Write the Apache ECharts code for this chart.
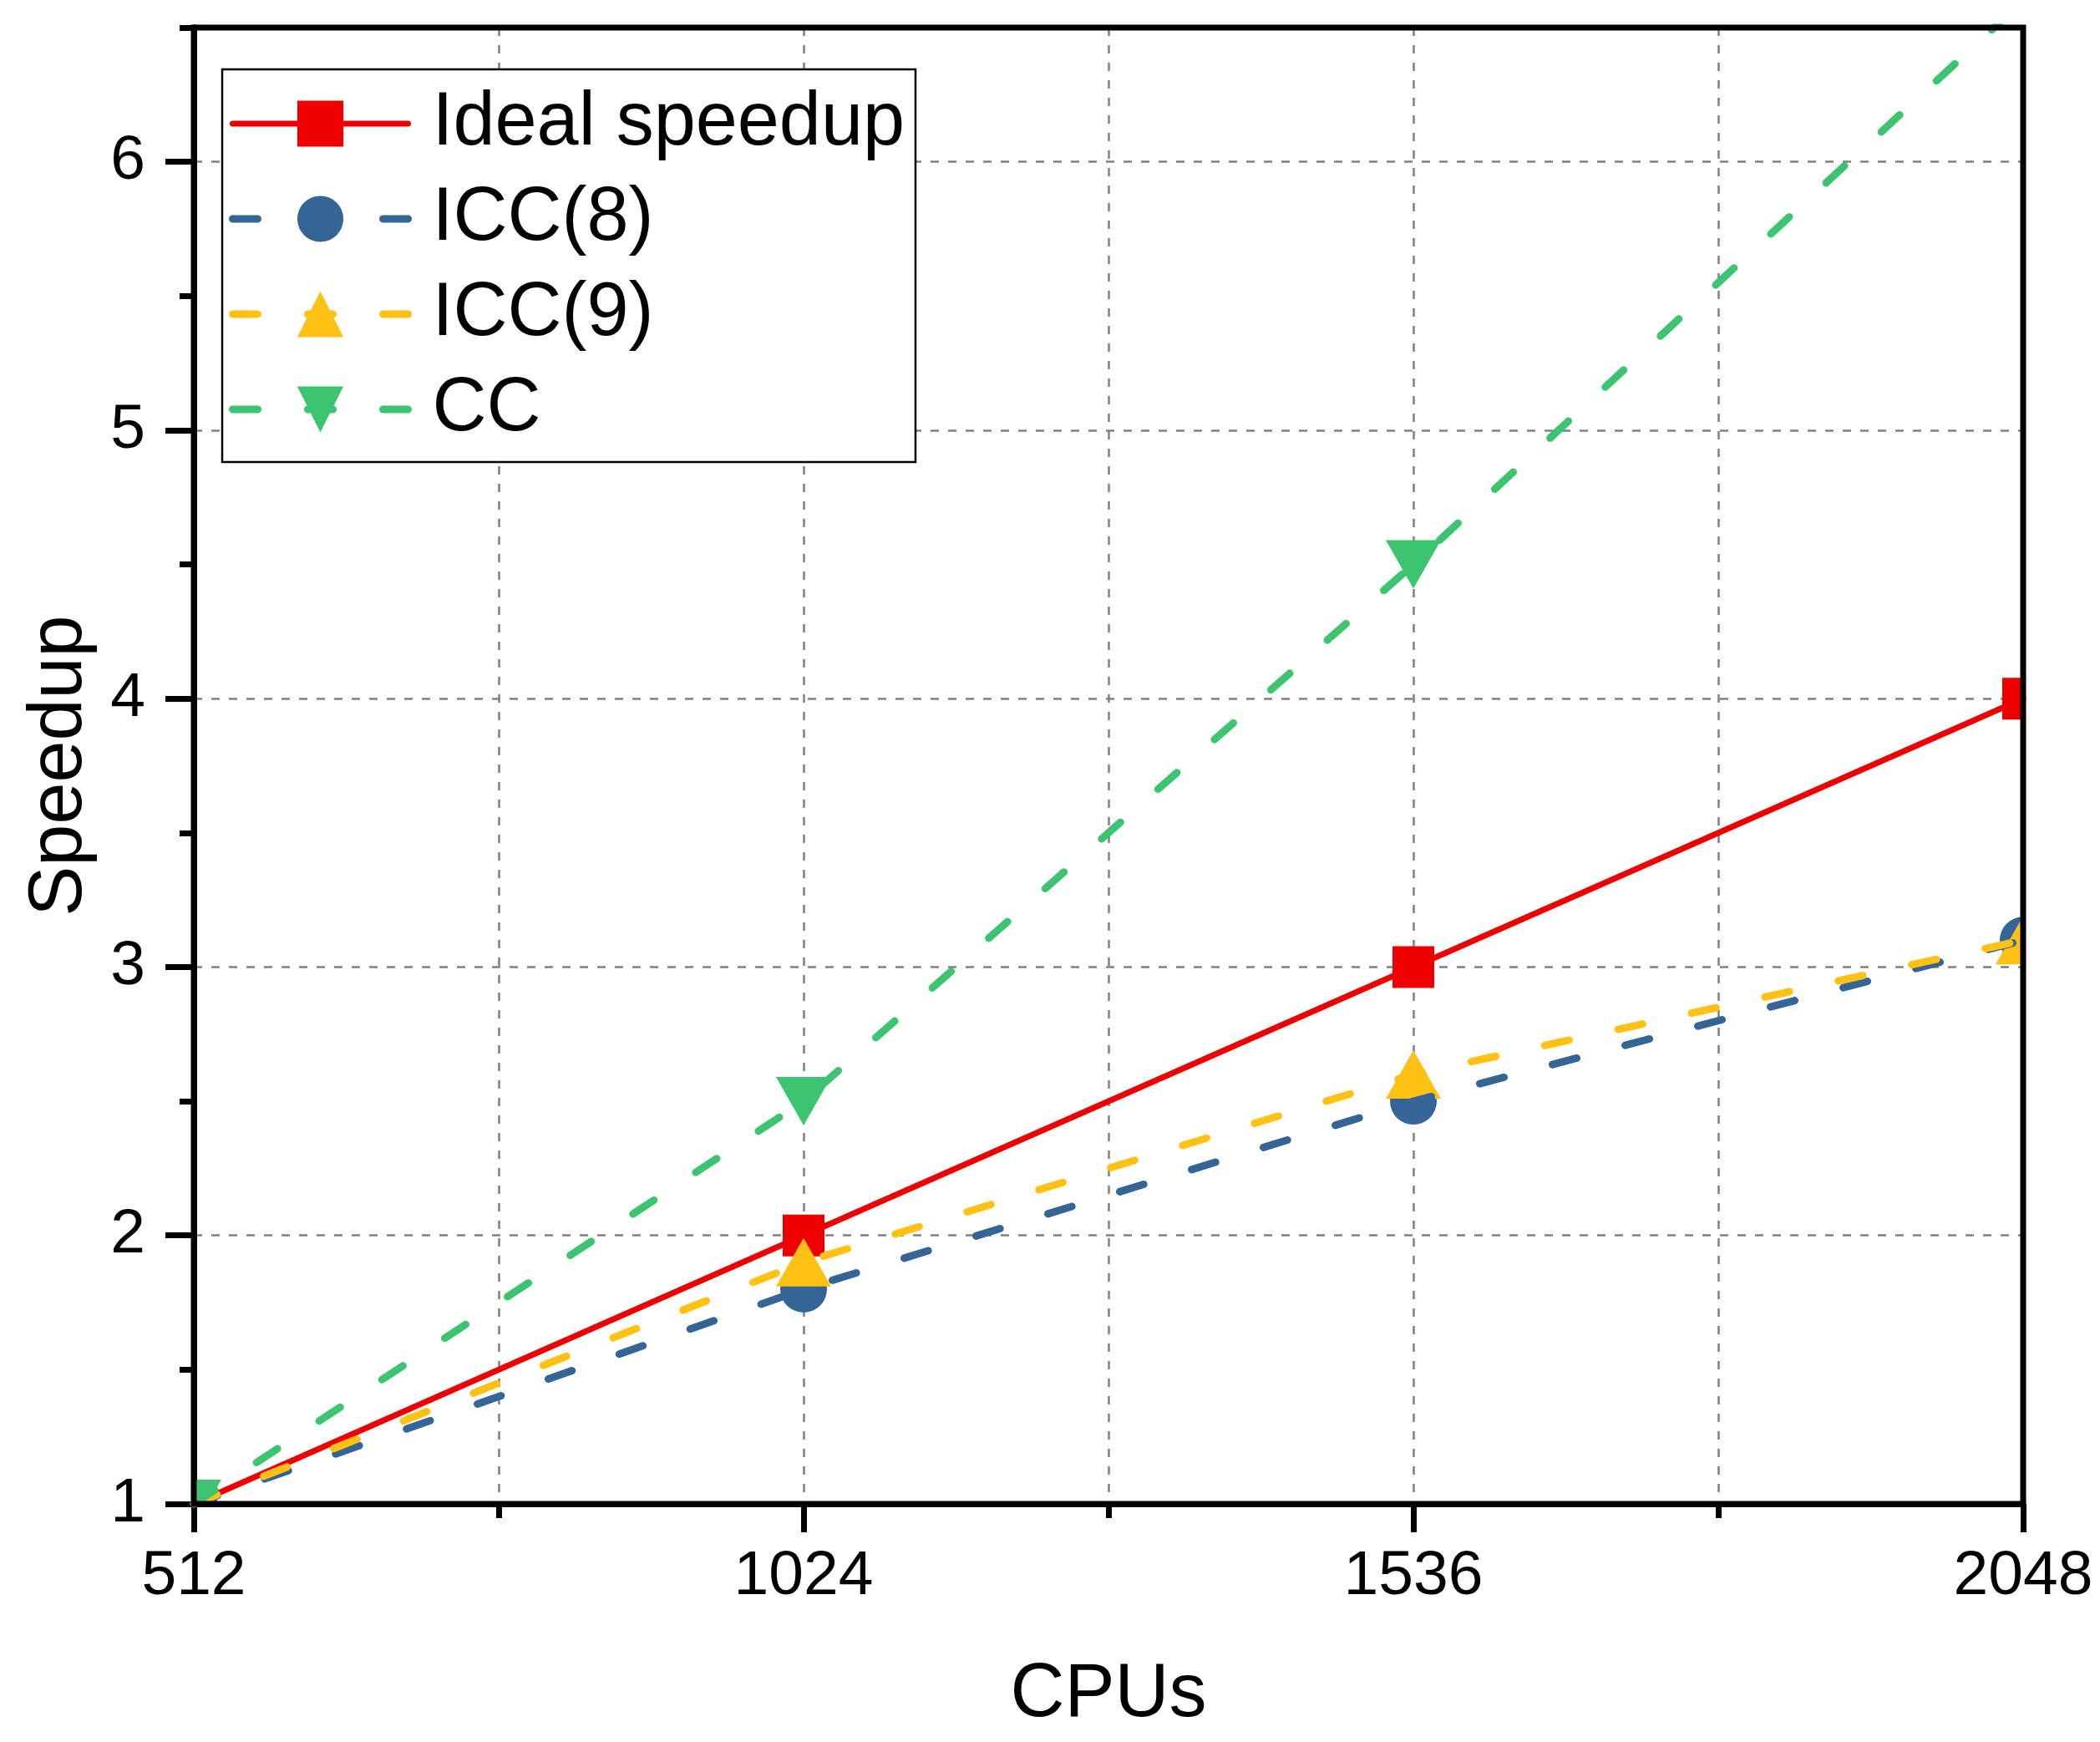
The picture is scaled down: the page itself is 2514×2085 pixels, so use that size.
<!DOCTYPE html>
<html>
<head>
<meta charset="utf-8">
<script src="https://cdn.jsdelivr.net/npm/echarts@6/dist/echarts.min.js"></script>
<style>
  html, body { margin: 0; padding: 0; background: #fff; }
  #main { width: 2514px; height: 2085px; }
</style>
</head>
<body>
<div id="main"></div>
<script>
// values
var cpus = [512, 1024, 1536, 2048];
var ideal = [1, 2, 3, 4];
var icc8 = [1, 1.8, 2.5, 3.1];
var icc9 = [1, 1.9, 2.6, 3.1];
var cc = [1, 2.5, 4.5, 6.6];
var yLabels = [1, 2, 3, 4, 5, 6];
var xLabels = [512, 1024, 1536, 2048];

var FONT = 'Liberation Sans';
var RED = '#EE0000', BLUE = '#346597', YELLOW = '#FFC114', GREEN = '#3DC470';

function pairs(ys) {
  return cpus.map(function (c, i) { return [c, ys[i]]; });
}

// markers drawn as custom items so they get clipped by the plot frame
function markerRender(kind, color) {
  return function (params, api) {
    var p = api.coord([api.value(0), api.value(1)]);
    var x = p[0], y = p[1];
    var el;
    if (kind === 'rect') {
      el = { type: 'rect', shape: { x: x - 25, y: y - 25, width: 50, height: 50 } };
    } else if (kind === 'circle') {
      el = { type: 'circle', shape: { cx: x, cy: y, r: 28 } };
    } else if (kind === 'up') {
      el = { type: 'polygon', shape: { points: [[x, y - 29], [x + 33, y + 29], [x - 33, y + 29]] } };
    } else {
      el = { type: 'polygon', shape: { points: [[x - 33, y - 29], [x + 33, y - 29], [x, y + 29]] } };
    }
    el.style = { fill: color };
    return el;
  };
}

function lineSeries(name, ys, color, symbol, dashed, rotate) {
  return {
    name: name,
    type: 'line',
    data: pairs(ys),
    symbol: symbol,
    symbolRotate: rotate || 0,
    showSymbol: false,
    clip: true,
    itemStyle: { color: color },
    lineStyle: {
      color: color,
      width: dashed ? 9 : 7,
      type: dashed ? [30, 60] : 'solid',
      cap: 'round'
    },
    emphasis: { disabled: true },
    animation: false
  };
}

function markerSeries(ys, kind, color) {
  return {
    type: 'custom',
    data: pairs(ys),
    clip: true,
    encode: { x: 0, y: 1 },
    renderItem: markerRender(kind, color),
    animation: false
  };
}

var gridDash = { color: '#808080', width: 2.5, type: [10, 11] };

var chart = echarts.init(document.getElementById('main'), null, { renderer: 'canvas' });
chart.setOption({
  backgroundColor: '#fff',
  textStyle: { fontFamily: FONT },
  grid: {
    left: 232, right: 92, top: 33, bottom: 285,
    show: true, z: 10,
    borderColor: '#000', borderWidth: 7,
    backgroundColor: 'transparent'
  },
  legend: {
    data: ['Ideal speedup', 'ICC(8)', 'ICC(9)', 'CC'],
    orient: 'vertical',
    left: 266, top: 83,
    padding: [20, 13, 18, 8],
    itemGap: 24,
    itemWidth: 210,
    itemHeight: 69,
    backgroundColor: '#fff',
    borderColor: '#000',
    borderWidth: 2.5,
    lineStyle: { width: 'inherit', type: 'inherit', cap: 'round' },
    textStyle: { fontFamily: FONT, fontSize: 90, color: '#000', padding: [0, 0, 0, 24] }
  },
  xAxis: {
    type: 'value',
    min: 512, max: 2048, interval: 512,
    name: 'CPUs',
    nameLocation: 'middle',
    nameGap: 184,
    nameTextStyle: { fontFamily: FONT, fontSize: 90, color: '#000' },
    axisLine: { show: true, lineStyle: { color: '#000', width: 7 } },
    axisTick: { show: true, inside: false, length: 34, lineStyle: { color: '#000', width: 7 } },
    minorTick: { show: true, splitNumber: 2, length: 17, lineStyle: { color: '#000', width: 7 } },
    axisLabel: {
      fontFamily: FONT, fontSize: 75, color: '#000', margin: 50,
      customValues: xLabels,
      formatter: function (v) { return String(v); }
    },
    splitLine: { show: true, lineStyle: gridDash },
    minorSplitLine: { show: true, lineStyle: gridDash }
  },
  yAxis: [{
    type: 'value',
    min: 1, max: 6.5, interval: 1,
    name: 'Speedup',
    nameLocation: 'middle',
    nameGap: 115,
    nameTextStyle: { fontFamily: FONT, fontSize: 90, color: '#000' },
    axisLine: { show: true, lineStyle: { color: '#000', width: 7 } },
    axisTick: {
      show: true, inside: false, length: 34,
      customValues: yLabels,
      lineStyle: { color: '#000', width: 7 }
    },
    axisLabel: {
      fontFamily: FONT, fontSize: 75, color: '#000', margin: 58,
      customValues: yLabels,
      formatter: function (v) { return String(v); }
    },
    splitLine: { show: true, lineStyle: gridDash }
  }, {
    type: 'value',
    position: 'left',
    min: 1, max: 6.5, interval: 0.5,
    axisLine: { show: true, lineStyle: { color: '#000', width: 7 } },
    axisTick: { show: true, inside: false, length: 17, lineStyle: { color: '#000', width: 7 } },
    axisLabel: { show: false },
    splitLine: { show: false }
  }],
  series: [
    lineSeries('Ideal speedup', ideal, RED, 'rect', false),
    markerSeries(ideal, 'rect', RED),
    lineSeries('ICC(8)', icc8, BLUE, 'circle', true),
    markerSeries(icc8, 'circle', BLUE),
    lineSeries('ICC(9)', icc9, YELLOW, 'triangle', true),
    markerSeries(icc9, 'up', YELLOW),
    lineSeries('CC', cc, GREEN, 'triangle', true, 180),
    markerSeries(cc, 'down', GREEN)
  ]
});
</script>
</body>
</html>
